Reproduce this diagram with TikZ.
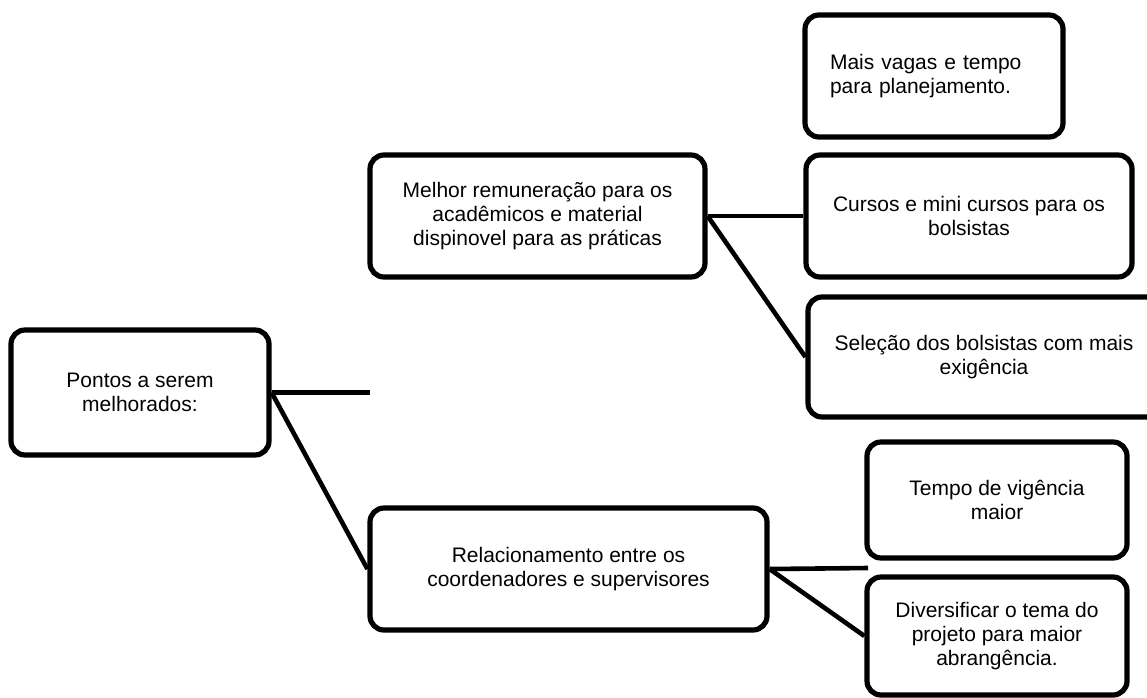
\documentclass[tikz,border=0pt]{standalone}
\usepackage{fontspec}
\setmainfont{Liberation Sans}
\begin{document}
\begin{tikzpicture}[x=1pt,y=-1pt,
  box/.style={draw=black,line width=5.2pt,rounded corners=14pt,fill=white,
    align=center,inner sep=0pt,font=\fontsize{21}{24}\selectfont},
  link/.style={draw=black,line width=4.6pt}]
\useasboundingbox (0,0) rectangle (1147,697);
\clip (0,0) rectangle (1147,697);
% nodes
\node[box,minimum width=258pt,minimum height=125pt] (root) at (140,392.5) {Pontos a serem\\melhorados:};
\node[box,minimum width=335pt,minimum height=122pt] (mid1) at (537.5,216) {Melhor remuneração para os\\acadêmicos e material\\dispinovel para as práticas};
\node[box,minimum width=397pt,minimum height=122pt] (mid2) at (568.5,569) {Relacionamento entre os\\coordenadores e supervisores};
\node[box,minimum width=258pt,minimum height=122pt,align=left,text width=208pt] (leaf1) at (934,76) {Mais vagas e tempo\\para planejamento.};
\node[box,minimum width=326pt,minimum height=122pt] (leaf2) at (969,216) {Cursos e mini cursos para os\\bolsistas};
\node[box,minimum width=352pt,minimum height=120pt] (leaf3) at (984,357) {Seleção dos bolsistas com mais\\exigência};
\node[box,minimum width=260pt,minimum height=116pt] (leaf4) at (997,500) {Tempo de vigência\\maior};
\node[box,minimum width=260pt,minimum height=118pt] (leaf5) at (997,636) {Diversificar o tema do\\projeto para maior\\abrangência.};
% free ends
\coordinate (rootend) at (370,392.5);
\coordinate (mid2end) at (868,568);
% connectors
\draw[link] (root.east) -- (rootend);
\draw[link] (root.east) -- (mid2.west);
\draw[link] (mid1.east) -- (leaf2.west);
\draw[link] (mid1.east) -- (leaf3.west);
\draw[link] (mid2.east) -- (mid2end);
\draw[link] (mid2.east) -- (leaf5.west);
\end{tikzpicture}
\end{document}
